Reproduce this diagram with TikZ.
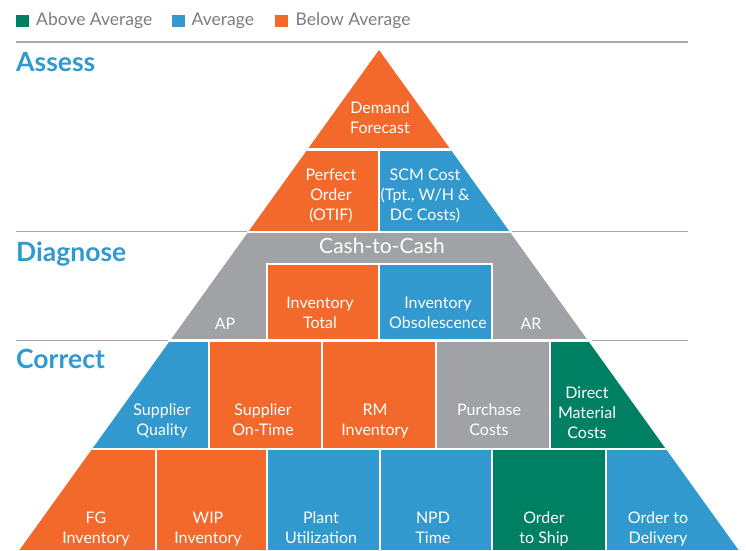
\documentclass[tikz,border=0pt]{standalone}
\usepackage{fontspec}
\setmainfont{Lato}

\definecolor{kpiOrange}{HTML}{F2692B}
\definecolor{kpiBlue}{HTML}{3199CE}
\definecolor{kpiGreen}{HTML}{008062}
\definecolor{kpiGray}{HTML}{A1A2A5}
\definecolor{headBlue}{HTML}{2F9AD0}
\definecolor{legendText}{HTML}{7C7C7C}
\definecolor{ruleGray}{HTML}{A8A8A8}

\tikzset{
  celltext/.style={text=white, font=\fontsize{16}{20}\selectfont, align=center,
    inner sep=0pt, anchor=north, execute at begin node={\strut}},
  stagetitle/.style={text=headBlue, font=\fontsize{26.5}{30}\selectfont\bfseries,
    inner sep=0pt, anchor=base west},
  legendtext/.style={text=legendText, font=\fontsize{17.5}{20}\selectfont,
    inner sep=0pt, anchor=base west},
  stagerule/.style={draw=ruleGray, line width=1.5pt},
  gap/.style={draw=white, line width=2.3pt},
}

\begin{document}
\begin{tikzpicture}[x=1pt,y=-1pt]
\useasboundingbox (0,0) rectangle (746,550);

% legend
\fill[kpiGreen]  (16,14.5) rectangle (28.8,27.3);
\node[legendtext] (lgA) at (36,25.5) {Above Average};
\fill[kpiBlue]   (172,14.5) rectangle (184.8,27.3);
\node[legendtext] (lgB) at (191.5,25.5) {Average};
\fill[kpiOrange] (275,14.5) rectangle (287.8,27.3);
\node[legendtext] (lgC) at (295.5,25.5) {Below Average};

% stage rules
\draw[stagerule] (16,42) -- (688,42);
\draw[stagerule] (16,231.7) -- (246.5,231.7);
\draw[stagerule] (511.5,231.7) -- (688,231.7);
\draw[stagerule] (16,340.7) -- (167.5,340.7);
\draw[stagerule] (591.5,340.7) -- (688,340.7);

% stage titles
\node[stagetitle] (tAssess) at (16,71.5) {Assess};
\node[stagetitle] (tDiagnose) at (16,261) {Diagnose};
\node[stagetitle] (tCorrect) at (16,368.5) {Correct};

% pyramid
\begin{scope}
  \clip (379,50) -- (19.5,550) -- (738.5,550) -- cycle;
  % assess
  \fill[kpiOrange] (0,40) rectangle (746,149.5);
  \fill[kpiOrange] (0,149.5) rectangle (379,232);
  \fill[kpiBlue]   (379,149.5) rectangle (746,232);
  % diagnose
  \fill[kpiGray] (0,232) rectangle (746,340);
  % correct, upper row
  \fill[kpiBlue]   (0,340) rectangle (209,449.2);
  \fill[kpiOrange] (209,340) rectangle (436.3,449.2);
  \fill[kpiGray]   (436.3,340) rectangle (550.3,449.2);
  \fill[kpiGreen]  (550.3,340) rectangle (746,449.2);
  % correct, lower row
  \fill[kpiOrange] (0,449.2) rectangle (267.3,550);
  \fill[kpiBlue]   (267.3,449.2) rectangle (492,550);
  \fill[kpiGreen]  (492,449.2) rectangle (606,550);
  \fill[kpiBlue]   (606,449.2) rectangle (746,550);
  % separators
  \draw[gap] (0,149.5) -- (746,149.5);
  \draw[gap] (0,232) -- (746,232);
  \draw[gap, line width=3pt] (0,340) -- (746,340);
  \draw[gap] (0,449.2) -- (746,449.2);
  \draw[gap] (379,149.5) -- (379,232);
  \foreach \x in {209,322.3,436.3,550.3} \draw[gap] (\x,340) -- (\x,449.2);
  \foreach \x in {156,267.3,380,492,606} \draw[gap] (\x,449.2) -- (\x,550);
\end{scope}

% inventory boxes inside the diagnose band
\fill[kpiOrange] (267,264) rectangle (379.3,339);
\fill[kpiBlue]   (379.3,264) rectangle (492,339);
\draw[white, line width=1.6pt] (267,339) -- (267,264) -- (492,264) -- (492,339);
\draw[white, line width=2pt] (379.3,264) -- (379.3,339);

% labels
\node[celltext] (demand) at (380,102) {Demand\\Forecast};
\node[celltext] (perfect) at (331,169) {Perfect\\Order\\(OTIF)};
\node[celltext] (scm) at (425,169) {SCM Cost\\(Tpt., W/H \&\\DC Costs)};
\node[text=white, font=\fontsize{21}{24}\selectfont, inner sep=0pt, anchor=base]
  (c2c) at (382,253) {Cash-to-Cash};
\node[celltext] (ap) at (225,315) {AP};
\node[celltext] (ar) at (531,315) {AR};
\node[celltext] (invtot) at (320,297) {Inventory\\Total};
\node[celltext] (invobs) at (438,297) {Inventory\\Obsolescence};
\node[celltext] (supq) at (162,404) {Supplier\\Quality};
\node[celltext] (supot) at (263,404) {Supplier\\On-Time};
\node[celltext] (rminv) at (375,404) {RM\\Inventory};
\node[celltext] (purch) at (489,404) {Purchase\\Costs};
\node[celltext] (dmc) at (587,387) {Direct\\Material\\Costs};
\node[celltext] (fginv) at (96,512) {FG\\Inventory};
\node[celltext] (wipinv) at (208,512) {WIP\\Inventory};
\node[celltext] (plant) at (321,512) {Plant\\Utilization};
\node[celltext] (npd) at (433,512) {NPD\\Time};
\node[celltext] (o2s) at (544,512) {Order\\to Ship};
\node[celltext] (o2d) at (658,512) {Order to\\Delivery};
\end{tikzpicture}
\end{document}
